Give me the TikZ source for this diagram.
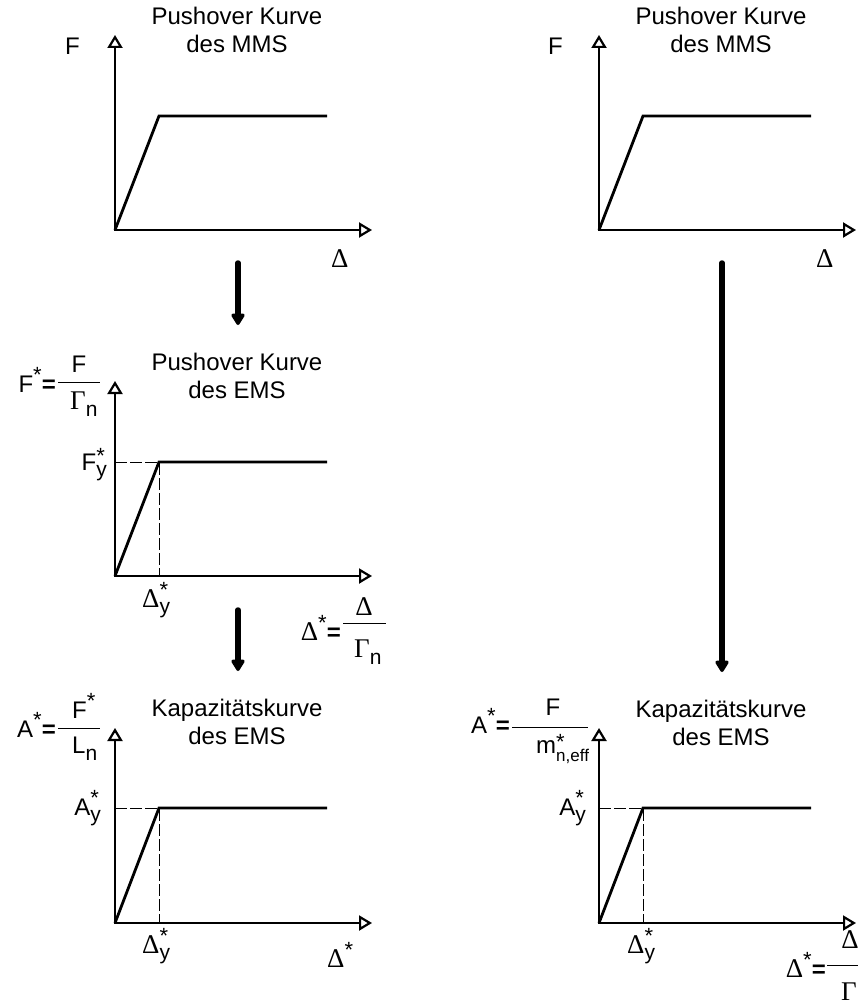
\documentclass[tikz,border=0pt]{standalone}
\usepackage{fontspec}
\setmainfont{Liberation Sans}
\newfontfamily\grk{Liberation Serif}
\usetikzlibrary{arrows.meta}
\newcommand\bigf{\fontsize{24}{28}\selectfont}
\newcommand\subf{\fontsize{21}{21}\selectfont}
\newcommand\supf{\fontsize{22}{22}\selectfont}
\newcommand\effs{\fontsize{17}{17}\selectfont}
\newcommand\Dl{{\grk\fontsize{27}{28}\selectfont Δ}}
\newcommand\Gm{{\grk\fontsize{27}{28}\selectfont Γ}}
\newcommand\SupSub[4][10pt]{#2\rlap{\raisebox{#1}{\supf #3}}\raisebox{-6pt}{\subf #4}}
\newcommand\Sup[2]{#1\raisebox{10pt}{\supf #2}}
\newcommand\Sub[2]{#1\raisebox{-7pt}{\subf #2}}
\newcommand\Eq{\textbf{=}}
\tikzset{
  ahead/.tip={Triangle[open,length=13pt,width=15pt,line width=2.2pt]},
  lbl/.style={inner sep=0pt, font=\bigf},
  ttl/.style={inner sep=0pt, font=\bigf, align=center},
  axis/.style={line width=2.6pt, ahead-ahead},
  curve/.style={line width=2.8pt, line join=miter},
  guide/.style={line width=0.8pt, dash pattern=on 12pt off 3pt},
  fbar/.style={line width=1pt},
  flow/.style={line width=5.5pt, line cap=round, -{Triangle[length=13pt,width=15pt,round]}}
}
\begin{document}
\begin{tikzpicture}[x=1pt,y=-1pt]
\useasboundingbox (0,0) rectangle (858,1003);
% ---------- graph coordinates ----------
\foreach \g/\ox/\oy/\dy in {g1/115/230/114, g2/115/576/114, g3/115/923/115, g4/599/230/114, g5/599/923/115}{
  \coordinate (\g o) at (\ox,\oy);
  \coordinate (\g y) at (\ox,\oy-195);
  \coordinate (\g x) at (\ox+257,\oy);
  \coordinate (\g k) at (\ox+44,\oy-\dy);
  \coordinate (\g e) at (\ox+212,\oy-\dy);
  \coordinate (\g h) at (\ox,\oy-\dy);
  \coordinate (\g b) at (\ox+44,\oy);
}
% ---------- axes and curves ----------
\foreach \g in {g1,g2,g3,g4,g5}{
  \draw[axis] (\g y) -- (\g o) -- (\g x);
  \draw[curve] (\g o) -- (\g k) -- (\g e);
}
\foreach \g in {g2,g3,g5}{
  \draw[guide] (\g h) -- (\g k) -- (\g b);
}
% ---------- titles ----------
\node[ttl] (t1) at (237,30) {Pushover Kurve\\des MMS};
\node[ttl] (t4) at (721,30) {Pushover Kurve\\des MMS};
\node[ttl] (t2) at (237,376) {Pushover Kurve\\des EMS};
\node[ttl] (t3) at (237,722) {Kapazitätskurve\\des EMS};
\node[ttl] (t5) at (721,723) {Kapazitätskurve\\des EMS};
% ---------- graph 1 ----------
\node[lbl, anchor=base west] (g1F) at (65,55) {F};
\node[lbl, anchor=base west] (g1D) at (331,267) {\Dl};
% ---------- graph 4 ----------
\node[lbl, anchor=base west] (g4F) at (548,55) {F};
\node[lbl, anchor=base west] (g4D) at (816,267) {\Dl};
% ---------- graph 2 ----------
\node[lbl, anchor=base east] (g2l) at (56,392) {\Sup{F}{*}\Eq};
\coordinate (g2b1) at (58,382); \coordinate (g2b2) at (100,382);
\draw[fbar] (g2b1) -- (g2b2);
\node[lbl, anchor=base] (g2n) at (79,372) {F};
\node[lbl, anchor=base west] (g2d) at (70,409) {\Sub{\Gm}{n}};
\node[lbl, anchor=base east] (g2Fy) at (107,470) {\SupSub[7pt]{F}{*}{y}};
\node[lbl, anchor=base west] (g2Dy) at (142,607) {\SupSub{\Dl}{*}{y}};
\node[lbl, anchor=base east] (g2xl) at (341,640) {\Sup{\Dl}{*}\Eq};
\coordinate (g2c1) at (343,623); \coordinate (g2c2) at (386,623);
\draw[fbar] (g2c1) -- (g2c2);
\node[lbl, anchor=base] (g2xn) at (364,615) {\Dl};
\node[lbl, anchor=base west] (g2xd) at (354,657) {\Sub{\Gm}{n}};
% ---------- graph 3 ----------
\node[lbl, anchor=base east] (g3l) at (56,737) {\Sup{A}{*}\Eq};
\coordinate (g3b1) at (58,728); \coordinate (g3b2) at (100,728);
\draw[fbar] (g3b1) -- (g3b2);
\node[lbl, anchor=base west] (g3n) at (72,718) {\Sup{F}{*}};
\node[lbl, anchor=base west] (g3d) at (72,753) {\Sub{L}{n}};
\node[lbl, anchor=base east] (g3Ay) at (101,815) {\SupSub{A}{*}{y}};
\node[lbl, anchor=base west] (g3Dy) at (142,953) {\SupSub{\Dl}{*}{y}};
\node[lbl, anchor=base west] (g3Dx) at (327,967) {\Sup{\Dl}{*}};
% ---------- graph 5 ----------
\node[lbl, anchor=base east] (g5l) at (510,733) {\Sup{A}{*}\Eq};
\coordinate (g5b1) at (512,727); \coordinate (g5b2) at (588,727);
\draw[fbar] (g5b1) -- (g5b2);
\node[lbl, anchor=base] (g5n) at (553,715) {F};
\node[lbl, anchor=base west] (g5d) at (536,753) {m\rlap{\raisebox{4pt}{\supf *}}\raisebox{-8pt}{\effs n,eff}};
\node[lbl, anchor=base east] (g5Ay) at (586,815) {\SupSub{A}{*}{y}};
\node[lbl, anchor=base west] (g5Dy) at (627,953) {\SupSub{\Dl}{*}{y}};
\node[lbl, anchor=base east] (g5xl) at (826,977) {\Sup{\Dl}{*}\Eq};
\coordinate (g5c1) at (827,965); \coordinate (g5c2) at (873,965);
\draw[fbar] (g5c1) -- (g5c2);
\node[lbl, anchor=base] (g5xn) at (850,948) {\Dl};
\node[lbl, anchor=base west] (g5xd) at (841,1000) {\Sub{\Gm}{n}};
% ---------- flow arrows ----------
\coordinate (a1s) at (238,263); \coordinate (a1e) at (238,325);
\coordinate (a2s) at (238,610); \coordinate (a2e) at (238,671);
\coordinate (a3s) at (722,263); \coordinate (a3e) at (722,672);
\draw[flow] (a1s) -- (a1e);
\draw[flow] (a2s) -- (a2e);
\draw[flow] (a3s) -- (a3e);
\end{tikzpicture}
\end{document}
